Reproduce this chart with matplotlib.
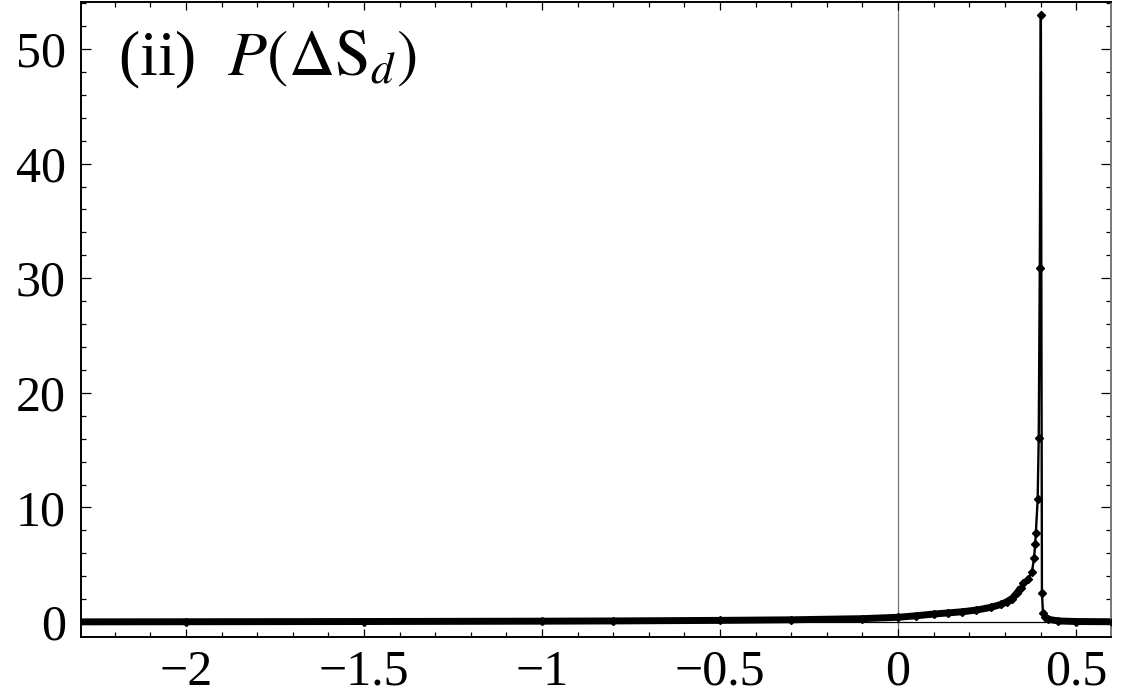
import matplotlib
matplotlib.use("Agg")
import matplotlib.pyplot as plt
import numpy as np
from matplotlib.ticker import MultipleLocator

# values
delta_s = [-2.3, -2.0, -1.5, -1.0, -0.8, -0.5, -0.3, -0.1, 0.0, 0.05, 0.1, 0.14,
           0.18, 0.22, 0.26, 0.29, 0.305, 0.32, 0.333, 0.345, 0.352, 0.366,
           0.376, 0.382, 0.385, 0.387, 0.392, 0.395, 0.398, 0.401,
           0.404, 0.407, 0.412, 0.42, 0.45, 0.5, 0.6]
p_delta_s = [0.02, 0.03, 0.05, 0.08, 0.1, 0.15, 0.2, 0.3, 0.42, 0.55, 0.7, 0.8,
             0.9, 1.05, 1.28, 1.55, 1.77, 2.05, 2.5, 3.0, 3.4, 3.8,
             4.4, 5.6, 6.8, 7.8, 10.7, 16.1, 30.9, 53.0,
             2.56, 0.76, 0.45, 0.25, 0.1, 0.05, 0.03]

x_major = [-2, -1.5, -1, -0.5, 0, 0.5]
x_labels = ["\u22122", "\u22121.5", "\u22121", "\u22120.5", "0", "0.5"]
y_major = [0, 10, 20, 30, 40, 50]

plt.rcParams["font.family"] = ["Liberation Serif", "DejaVu Serif"]
plt.rcParams["mathtext.fontset"] = "stix"

fig = plt.figure(figsize=(11.27, 6.97), dpi=100)
ax = fig.add_axes([0.0719, 0.0861, 0.9139, 0.911])

x = np.array(delta_s)
p = np.array(p_delta_s)

# reference lines through the origin
ax.axvline(0, color="#777777", lw=0.9, zorder=1)
ax.axhline(0, color="black", lw=0.9, zorder=1)

# dense noisy histogram band away from the spike
left = x <= 0.35
right = x >= 0.41
ax.plot(x[left], p[left], color="black", lw=5.0, solid_capstyle="butt", zorder=2)
ax.plot(x[right], p[right], color="black", lw=5.0, solid_capstyle="butt", zorder=2)
ax.plot(x, p, color="black", lw=1.7, marker="D", ms=3.8, zorder=3)

ax.set_xlim(-2.295, 0.598)
ax.set_ylim(-1.3, 54.1)

ax.set_xticks(x_major)
ax.set_xticklabels(x_labels)
ax.set_yticks(y_major)
ax.xaxis.set_minor_locator(MultipleLocator(0.1))
ax.yaxis.set_minor_locator(MultipleLocator(2))

ax.tick_params(which="both", direction="in", top=True, right=True,
               labelsize=36, width=0.9)
ax.tick_params(axis="x", which="major", length=6, pad=9)
ax.tick_params(axis="y", which="major", length=7, pad=11)
ax.tick_params(which="minor", length=3.5)
ax.tick_params(axis="x", which="both", top=True, color="black")

for side in ["left", "bottom", "top"]:
    ax.spines[side].set_linewidth(1.4)
ax.spines["right"].set_linewidth(1.4)
ax.spines["right"].set_color("#777777")

ax.text(0.036, 0.885, r"(ii)  $P(\Delta\mathrm{S}_d)$", transform=ax.transAxes,
        fontsize=46, va="baseline", ha="left")

plt.savefig("out.png", dpi=100)
plt.close()
